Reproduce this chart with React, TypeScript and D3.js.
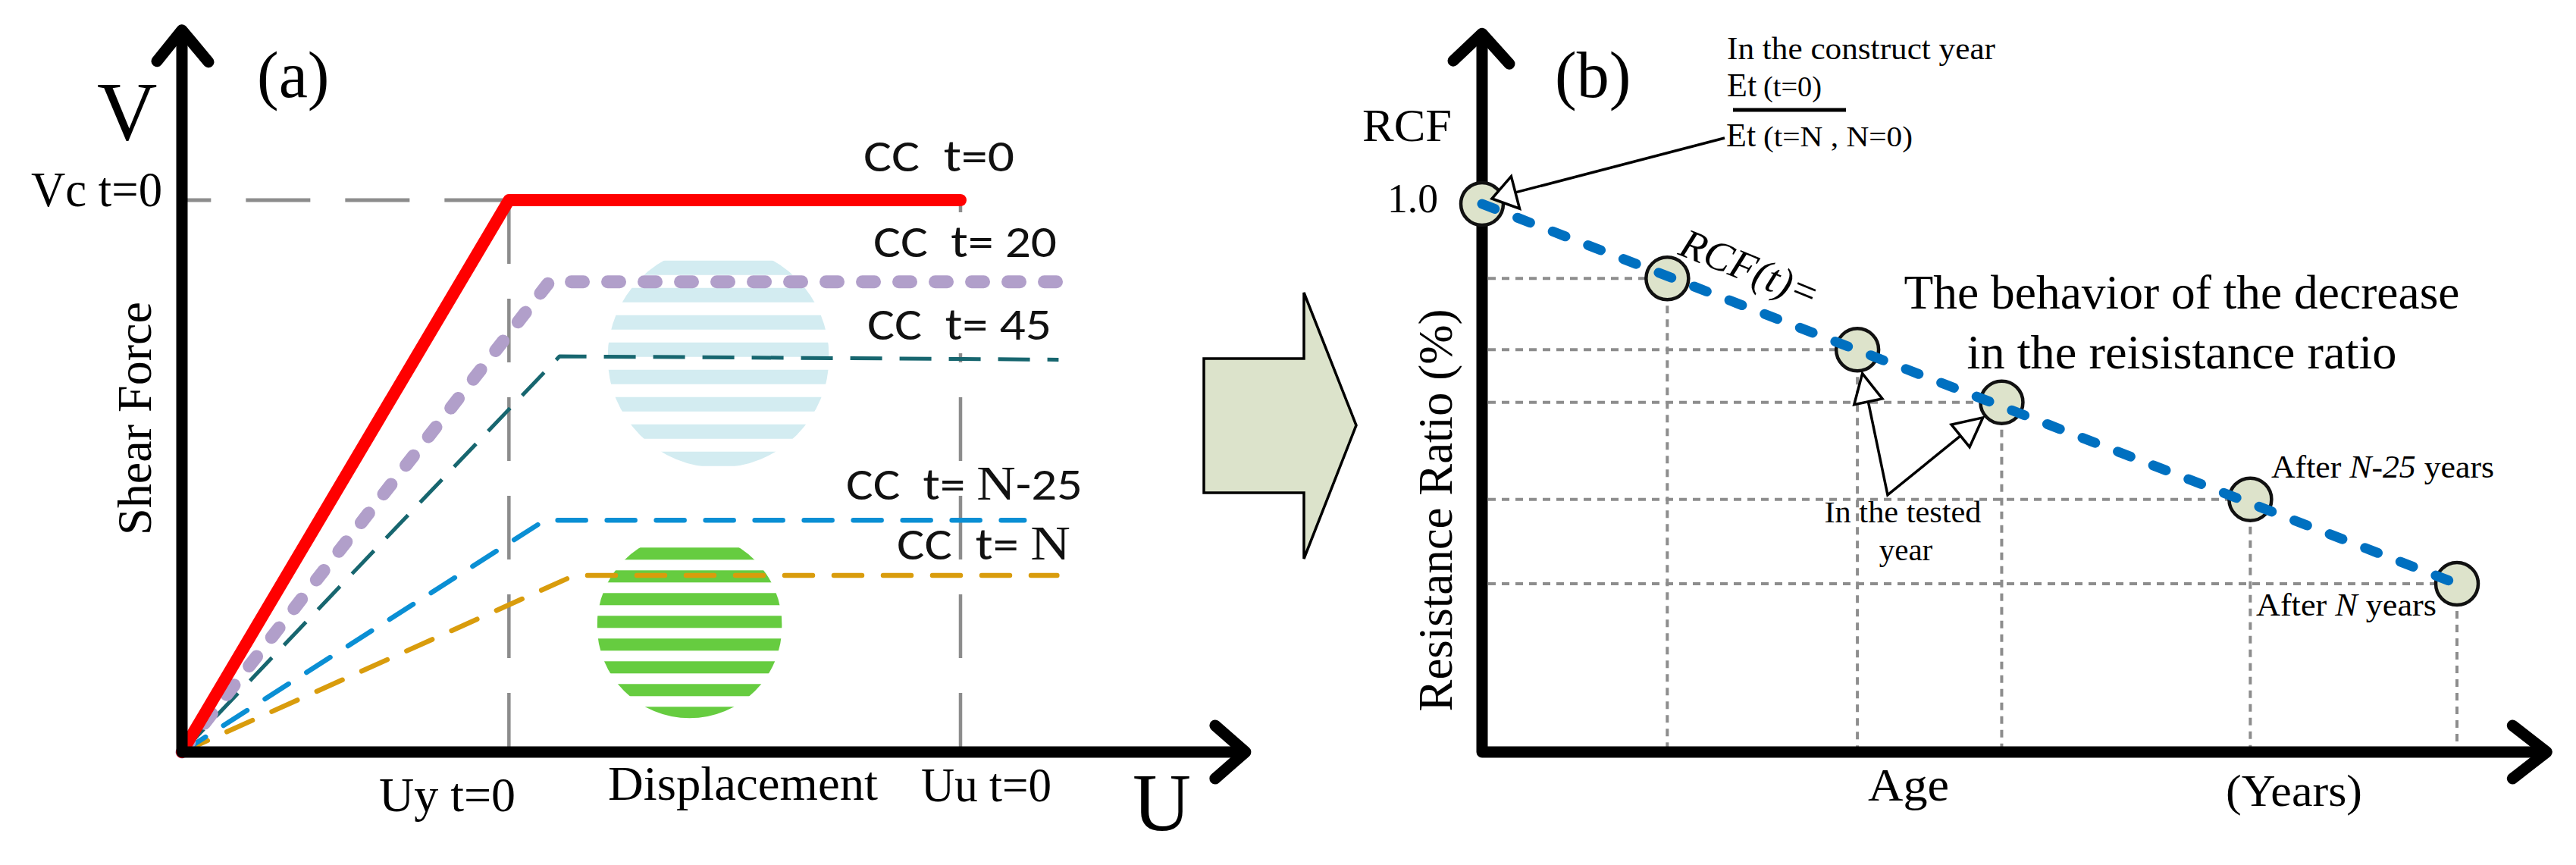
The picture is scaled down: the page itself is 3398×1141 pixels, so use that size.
import React from 'react';
import * as d3 from 'd3';

const W = 3398;
const H = 1141;

// ---------- Panel (a) data: normalised displacement U (Uu t=0 = 1) and shear force V (Vc t=0 = 1)
const seriesLabels = ['CC  t=0', 'CC  t= 20', 'CC  t= 45', 'CC  t= N-25', 'CC  t= N'];
const ccT0U = [0, 0.42, 1.0];
const ccT0V = [0, 1.0, 1.0];
const ccT20U = [0, 0.472, 1.141];
const ccT20V = [0, 0.852, 0.852];
const ccT45U = [0, 0.485, 1.126];
const ccT45V = [0, 0.717, 0.711];
const ccTN25U = [0, 0.466, 1.082];
const ccTN25V = [0, 0.42, 0.42];
const ccTNU = [0, 0.504, 1.124];
const ccTNV = [0, 0.32, 0.32];
const uyValue = 0.42;
const uuValue = 1.0;
const vcValue = 1.0;
const axisAMaxU = 1.366;
const axisAMaxV = 1.308;

// ---------- Panel (b) data: age (years) and resistance ratio RCF
const ageYears = [0, 19, 38.5, 53.3, 78.8, 100];
const rcfValues = [1.0, 0.864, 0.734, 0.638, 0.461, 0.307];
const axisBMaxAge = 109.2;
const axisBMaxRcf = 1.311;

const SERIF = "'Liberation Serif', 'Times New Roman', serif";
const SANS = "Carlito, Lato, 'Open Sans', sans-serif";

const xA = d3.scaleLinear().domain([0, 1]).range([240, 1267]);
const yA = d3.scaleLinear().domain([0, 1]).range([992, 264]);
const xB = d3.scaleLinear().domain([0, 100]).range([1955, 3241]);
const yB = d3.scaleLinear().domain([0, 1]).range([992, 269]);

const lineA = d3.line<[number, number]>().x(d => xA(d[0])).y(d => yA(d[1]));
const zipA = (u: number[], v: number[]) => u.map((x, i) => [x, v[i]] as [number, number]);

const curvesA = [
  { label: seriesLabels[0], u: ccT0U, v: ccT0V, color: '#ff0000', width: 16, dash: null as string | null, cap: 'round' },
  { label: seriesLabels[1], u: ccT20U, v: ccT20V, color: '#b19fca', width: 17, dash: '16 32', cap: 'round' },
  { label: seriesLabels[2], u: ccT45U, v: ccT45V, color: '#17666f', width: 5, dash: '42 23', cap: 'butt' },
  { label: seriesLabels[3], u: ccTN25U, v: ccTN25V, color: '#0a8fd4', width: 6.5, dash: '37 28', cap: 'round' },
  { label: seriesLabels[4], u: ccTNU, v: ccTNV, color: '#d99c0c', width: 6.5, dash: '37 28', cap: 'round' },
];

// label placement (x start, baseline, text length) for each curve
const labelPos = [
  { x: 1139, y: 226, len: 199 },
  { x: 1152, y: 339, len: 242 },
  { x: 1144, y: 448, len: 243 },
  { x: 1116, y: 659, len: 312 },
  { x: 1183, y: 738, len: 229 },
];

// striped discs (decoration) : centre in data units, radius / stripe geometry in px
const discs = [
  { id: 'discBlue', cu: 0.689, cv: 0.716, r: 146, color: '#d3ecf1', offset: 19, period: 36, band: 19, n: 8 },
  { id: 'discGreen', cu: 0.652, cv: 0.229, r: 122, color: '#66cc40', offset: 19, period: 30, band: 16, n: 8 },
];

function arrowHead(tx: number, ty: number, fx: number, fy: number, len: number, half: number) {
  const dx = fx - tx;
  const dy = fy - ty;
  const L = Math.hypot(dx, dy);
  const ux = dx / L;
  const uy = dy / L;
  const bx = tx + ux * len;
  const by = ty + uy * len;
  const px = -uy;
  const py = ux;
  return {
    base: [bx, by],
    pts: `${tx},${ty} ${bx + px * half},${by + py * half} ${bx - px * half},${by - py * half}`,
  };
}

function PanelA() {
  const x0 = xA(0);
  const y0 = yA(0);
  return (
    <g>
      {/* striped discs */}
      <defs>
        {discs.map(d => (
          <clipPath id={d.id} key={d.id}>
            <circle cx={xA(d.cu)} cy={yA(d.cv)} r={d.r} />
          </clipPath>
        ))}
      </defs>
      {discs.map(d => {
        const top = yA(d.cv) - d.r;
        return (
          <g clipPath={`url(#${d.id})`} key={d.id + 'g'}>
            {d3.range(d.n).map(k => (
              <rect key={k} x={xA(d.cu) - d.r} y={top + d.offset + k * d.period} width={2 * d.r} height={d.band} fill={d.color} />
            ))}
          </g>
        );
      })}

      {/* reference dashed lines */}
      <line x1={xA(uyValue)} y1={yA(vcValue)} x2={x0 + 4} y2={yA(vcValue)} stroke="#8c8c8c" strokeWidth={5} strokeDasharray="85 46" />
      <line x1={xA(uyValue)} y1={yA(vcValue)} x2={xA(uyValue)} y2={y0} stroke="#8c8c8c" strokeWidth={4.5} strokeDasharray="84 46" />
      <line x1={xA(uuValue)} y1={yA(vcValue)} x2={xA(uuValue)} y2={y0} stroke="#8c8c8c" strokeWidth={4.5} strokeDasharray="84 46" />

      {/* label backgrounds */}
      <rect x={1140} y={280} width={260} height={74} fill="#fff" />
      <rect x={1135} y={386} width={260} height={80} fill="#fff" />

      {/* curves */}
      {curvesA.slice().reverse().map(c => (
        <path
          key={c.label}
          d={lineA(zipA(c.u, c.v)) || ''}
          fill="none"
          stroke={c.color}
          strokeWidth={c.width}
          strokeDasharray={c.dash || undefined}
          strokeLinecap={c.cap as any}
          strokeLinejoin="round"
        />
      ))}

      {/* curve labels */}
      {curvesA.map((c, i) => {
        const p = labelPos[i];
        const hasN = c.label.includes('N');
        const parts = hasN ? c.label.split('N') : [c.label];
        return (
          <text key={c.label + 't'} x={p.x} y={p.y} fontFamily={SANS} fontSize={60} fill="#111" textLength={p.len} lengthAdjust="spacingAndGlyphs" style={{ whiteSpace: 'pre' }}>
            {hasN ? (
              <>
                <tspan>{parts[0]}</tspan>
                <tspan fontFamily={SERIF} fontSize={64}>N</tspan>
                <tspan>{parts[1]}</tspan>
              </>
            ) : (
              c.label
            )}
          </text>
        );
      })}

      {/* axes */}
      <path
        d={`M${x0},${yA(axisAMaxV)} L${x0},${y0} L${xA(axisAMaxU)},${y0}`}
        fill="none"
        stroke="#000"
        strokeWidth={15}
        strokeLinejoin="round"
      />
      <polyline points={`${x0 - 33},${yA(axisAMaxV) + 41} ${x0},${yA(axisAMaxV)} ${x0 + 35},${yA(axisAMaxV) + 42}`} fill="none" stroke="#000" strokeWidth={15} strokeLinecap="round" strokeLinejoin="round" />
      <polyline points={`${xA(axisAMaxU) - 40},${y0 - 35} ${xA(axisAMaxU)},${y0} ${xA(axisAMaxU) - 40},${y0 + 35}`} fill="none" stroke="#000" strokeWidth={15} strokeLinecap="round" strokeLinejoin="round" />

      {/* axis texts */}
      <text x={128} y={184} fontFamily={SERIF} fontSize={110} fill="#000">V</text>
      <text x={339} y={128} fontFamily={SERIF} fontSize={86} fill="#000">(a)</text>
      <text x={41} y={272} fontFamily={SERIF} fontSize={66} fill="#000" textLength={173} lengthAdjust="spacingAndGlyphs">Vc t=0</text>
      <text transform="translate(199,552) rotate(-90)" textAnchor="middle" fontFamily={SERIF} fontSize={64} fill="#000" textLength={308} lengthAdjust="spacingAndGlyphs">Shear Force</text>
      <text x={500} y={1070} fontFamily={SERIF} fontSize={63} fill="#000" textLength={180} lengthAdjust="spacingAndGlyphs">Uy t=0</text>
      <text x={802} y={1055} fontFamily={SERIF} fontSize={64} fill="#000" textLength={356} lengthAdjust="spacingAndGlyphs">Displacement</text>
      <text x={1215} y={1057} fontFamily={SERIF} fontSize={63} fill="#000" textLength={172} lengthAdjust="spacingAndGlyphs">Uu t=0</text>
      <text x={1494} y={1095} fontFamily={SERIF} fontSize={108} fill="#000" textLength={77} lengthAdjust="spacingAndGlyphs">U</text>
    </g>
  );
}

function BlockArrow() {
  const pts = [
    [1588, 473], [1720, 473], [1720, 386], [1789, 561], [1720, 737], [1720, 650], [1588, 650],
  ];
  return <polygon points={pts.map(p => p.join(',')).join(' ')} fill="#dce3cb" stroke="#000" strokeWidth={3.5} strokeLinejoin="miter" />;
}

function PanelB() {
  const x0 = xB(0);
  const y0 = yB(0);
  const pts = ageYears.map((a, i) => [xB(a), yB(rcfValues[i])] as [number, number]);
  const trend = d3.line<[number, number]>()([pts[0], pts[pts.length - 1]]) || '';
  const R = 28;

  // annotation arrows
  const a1 = arrowHead(1968, 262, 2275, 182, 32, 22);
  const vertex: [number, number] = [xB(41.6), yB(0.469)];
  const toPt = (i: number) => {
    const [cx, cy] = pts[i];
    const dx = vertex[0] - cx;
    const dy = vertex[1] - cy;
    const L = Math.hypot(dx, dy);
    return [cx + (dx / L) * (R + 4), cy + (dy / L) * (R + 4)];
  };
  const t2 = toPt(2);
  const t3 = toPt(3);
  const a2 = arrowHead(t2[0], t2[1], vertex[0], vertex[1], 38, 19);
  const a3 = arrowHead(t3[0], t3[1], vertex[0], vertex[1], 38, 19);

  return (
    <g>
      {/* drop lines */}
      {pts.slice(1).map(([px, py], i) => (
        <g key={'g' + i}>
          <line x1={x0 + 8} y1={py} x2={px} y2={py} stroke="#8d8d8d" strokeWidth={4} strokeDasharray="10 8" />
          <line x1={px} y1={py} x2={px} y2={y0} stroke="#8d8d8d" strokeWidth={4} strokeDasharray="10 8" />
        </g>
      ))}

      {/* axes */}
      <path d={`M${x0},${yB(axisBMaxRcf)} L${x0},${y0} L${xB(axisBMaxAge)},${y0}`} fill="none" stroke="#000" strokeWidth={15} strokeLinejoin="round" />
      <polyline points={`${x0 - 38},${yB(axisBMaxRcf) + 36} ${x0},${yB(axisBMaxRcf)} ${x0 + 36},${yB(axisBMaxRcf) + 40}`} fill="none" stroke="#000" strokeWidth={15} strokeLinecap="round" strokeLinejoin="round" />
      <polyline points={`${xB(axisBMaxAge) - 45},${y0 - 35} ${xB(axisBMaxAge)},${y0} ${xB(axisBMaxAge) - 45},${y0 + 35}`} fill="none" stroke="#000" strokeWidth={15} strokeLinecap="round" strokeLinejoin="round" />

      {/* points */}
      {pts.map(([px, py], i) => (
        <circle key={'c' + i} cx={px} cy={py} r={R} fill="#dde3cb" stroke="#111" strokeWidth={4.5} />
      ))}

      {/* trend */}
      <path d={trend} fill="none" stroke="#0070c0" strokeWidth={13} strokeDasharray="18 32" strokeLinecap="round" />

      {/* annotation arrows */}
      <line x1={2275} y1={182} x2={a1.base[0]} y2={a1.base[1]} stroke="#000" strokeWidth={3.5} />
      <polygon points={a1.pts} fill="#fff" stroke="#000" strokeWidth={3.5} strokeLinejoin="miter" />
      <polyline points={`${a2.base[0]},${a2.base[1]} ${vertex[0]},${vertex[1]} ${a3.base[0]},${a3.base[1]}`} fill="none" stroke="#000" strokeWidth={3.5} />
      <polygon points={a2.pts} fill="#fff" stroke="#000" strokeWidth={3.5} />
      <polygon points={a3.pts} fill="#fff" stroke="#000" strokeWidth={3.5} />

      {/* texts */}
      <text x={2051} y={128} fontFamily={SERIF} fontSize={86} fill="#000">(b)</text>
      <text x={1797} y={186} fontFamily={SERIF} fontSize={62} fill="#000" textLength={118} lengthAdjust="spacingAndGlyphs">RCF</text>
      <text x={1830} y={280} fontFamily={SERIF} fontSize={54} fill="#000" textLength={67} lengthAdjust="spacingAndGlyphs">1.0</text>
      <text transform="translate(1915,673) rotate(-90)" textAnchor="middle" fontFamily={SERIF} fontSize={63} fill="#000" textLength={531} lengthAdjust="spacingAndGlyphs">Resistance Ratio (%)</text>

      <text x={2278} y={78} fontFamily={SERIF} fontSize={42} fill="#000" textLength={354} lengthAdjust="spacingAndGlyphs">In the construct year</text>
      <text x={2278} y={127} fontFamily={SERIF} fontSize={44} fill="#000">Et</text>
      <text x={2326} y={127} fontFamily={SERIF} fontSize={38} fill="#000" textLength={77} lengthAdjust="spacingAndGlyphs">(t=0)</text>
      <line x1={2286} y1={145} x2={2435} y2={145} stroke="#000" strokeWidth={5} />
      <text x={2277} y={193} fontFamily={SERIF} fontSize={44} fill="#000">Et</text>
      <text x={2326} y={193} fontFamily={SERIF} fontSize={38} fill="#000" textLength={197} lengthAdjust="spacingAndGlyphs">(t=N , N=0)</text>

      <text transform="translate(2212,335) rotate(22)" fontFamily={SERIF} fontStyle="italic" fontSize={55} fill="#000">RCF(t)=</text>

      <text x={2878} y={407} textAnchor="middle" fontFamily={SERIF} fontSize={64} fill="#000" textLength={733} lengthAdjust="spacingAndGlyphs">The behavior of the decrease</text>
      <text x={2878} y={486} textAnchor="middle" fontFamily={SERIF} fontSize={64} fill="#000" textLength={567} lengthAdjust="spacingAndGlyphs">in the reisistance ratio</text>

      <text x={2510} y={689} textAnchor="middle" fontFamily={SERIF} fontSize={41} fill="#000" textLength={207} lengthAdjust="spacingAndGlyphs">In the tested</text>
      <text x={2514} y={739} textAnchor="middle" fontFamily={SERIF} fontSize={41} fill="#000">year</text>

      <text x={2996} y={630} fontFamily={SERIF} fontSize={42} fill="#000" textLength={294} lengthAdjust="spacingAndGlyphs" style={{ whiteSpace: 'pre' }}>
        After <tspan fontStyle="italic">N-25</tspan> years
      </text>
      <text x={2976} y={812} fontFamily={SERIF} fontSize={42} fill="#000" textLength={238} lengthAdjust="spacingAndGlyphs" style={{ whiteSpace: 'pre' }}>
        After <tspan fontStyle="italic">N</tspan> years
      </text>

      <text x={2464} y={1056} fontFamily={SERIF} fontSize={62} fill="#000" textLength={107} lengthAdjust="spacingAndGlyphs">Age</text>
      <text x={2936} y={1063} fontFamily={SERIF} fontSize={60} fill="#000" textLength={180} lengthAdjust="spacingAndGlyphs">(Years)</text>
    </g>
  );
}

export default function App() {
  return (
    <svg
      width={W}
      height={H}
      viewBox={`0 0 ${W} ${H}`}
      style={{ position: 'absolute', left: 0, top: 0, background: '#fff' }}
      xmlns="http://www.w3.org/2000/svg"
    >
      <rect x={0} y={0} width={W} height={H} fill="#fff" />
      <PanelA />
      <BlockArrow />
      <PanelB />
    </svg>
  );
}
